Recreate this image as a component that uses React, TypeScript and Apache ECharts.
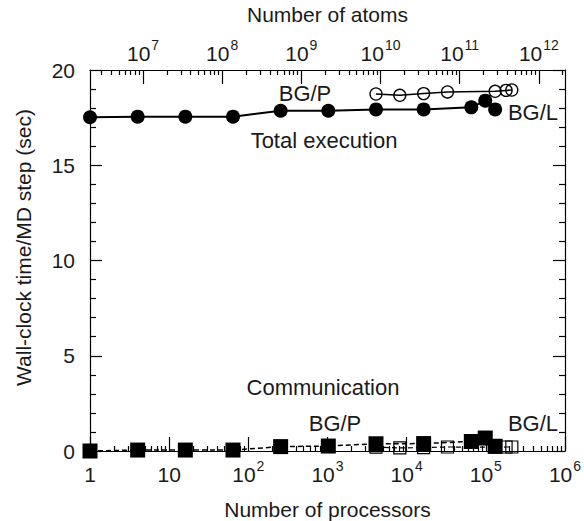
import React, { useEffect, useRef } from "react";
import * as echarts from "echarts";

// ---- data ----
const bglProcs = [1, 4, 16, 64, 256, 1024, 4096, 16384, 65536, 98304, 131072];
const bglTotal = [17.52, 17.55, 17.55, 17.55, 17.86, 17.86, 17.93, 17.93, 18.04, 18.39, 17.93];
const bglComm = [0.0, 0.05, 0.05, 0.05, 0.23, 0.26, 0.38, 0.39, 0.5, 0.68, 0.25];

const bgpProcs = [4096, 8192, 16384, 32768, 131072, 180224, 212992];
const bgpTotal = [18.74, 18.67, 18.76, 18.85, 18.88, 18.93, 18.95];
const bgpComm = [0.2, 0.16, 0.18, 0.21, 0.2, 0.21, 0.21];

const procTicks = [1, 10, 100, 1000, 10000, 100000, 1000000];
const atomTicks = [1e7, 1e8, 1e9, 1e10, 1e11, 1e12];
const atomMin = 2.14e6;
const atomMax = 2.14e12;

const yTicks = { min: 0, max: 20, interval: 5 };

const FONT = "Liberation Sans";
const TXT = "#1a1a1a";

function minorTicks(lo: number, hi: number, eFrom: number, eTo: number) {
  const out: number[] = [];
  for (let e = eFrom; e <= eTo; e++) {
    for (let m = 2; m <= 9; m++) {
      const v = m * Math.pow(10, e);
      if (v > lo && v < hi) out.push(v);
    }
  }
  return out;
}

const powLabel = (v: number) => {
  const e = Math.round(Math.log10(v));
  if (e === 0) return "{b|1}";
  if (e === 1) return "{b|10}";
  return `{b|10}{s|${e}}`;
};

const rich = {
  b: { fontSize: 21, fontFamily: FONT, color: TXT, lineHeight: 34, verticalAlign: "bottom" },
  s: { fontSize: 14, fontFamily: FONT, color: TXT, lineHeight: 14, verticalAlign: "top", padding: [8, 0, 0, 1] },
};

export default function App() {
  const ref = useRef<HTMLDivElement>(null);
  useEffect(() => {
    if (!ref.current) return;
    const chart = echarts.init(ref.current, undefined, { renderer: "svg" });
    const axisLine = { show: true, lineStyle: { color: "#000", width: 1.2 } };
    const tickStyle = { color: "#000", width: 1.2 };
    const option: any = {
      animation: false,
      backgroundColor: "#fff",
      grid: { left: 90, right: 19, top: 70, bottom: 70, containLabel: false, outerBoundsMode: "none" },
      xAxis: [
        {
          type: "log",
          logBase: 10,
          min: 1,
          max: 1e6,
          position: "bottom",
          axisLine,
          axisTick: { show: true, inside: true, length: 14, customValues: procTicks, lineStyle: tickStyle },
          axisLabel: { customValues: procTicks, formatter: powLabel, rich, margin: 0 },
          splitLine: { show: false },
          name: "Number of processors",
          nameLocation: "middle",
          nameGap: 48,
          nameTextStyle: { fontSize: 21, fontFamily: FONT, color: TXT },
        },
        {
          type: "log",
          logBase: 10,
          min: 1,
          max: 1e6,
          position: "bottom",
          axisLine: { show: false },
          axisTick: { show: true, inside: true, length: 5, customValues: minorTicks(1, 1e6, 0, 5), lineStyle: tickStyle },
          axisLabel: { show: false },
          splitLine: { show: false },
        },
        {
          type: "log",
          logBase: 10,
          min: atomMin,
          max: atomMax,
          position: "top",
          axisLine,
          axisTick: { show: true, inside: true, length: 14, customValues: atomTicks, lineStyle: tickStyle },
          axisLabel: { customValues: atomTicks, formatter: powLabel, rich, margin: 6 },
          splitLine: { show: false },
          name: "Number of atoms",
          nameLocation: "middle",
          nameGap: 44,
          nameTextStyle: { fontSize: 21, fontFamily: FONT, color: TXT },
        },
        {
          type: "log",
          logBase: 10,
          min: atomMin,
          max: atomMax,
          position: "top",
          axisLine: { show: false },
          axisTick: { show: true, inside: true, length: 5, customValues: minorTicks(atomMin, atomMax, 6, 12), lineStyle: tickStyle },
          axisLabel: { show: false },
          splitLine: { show: false },
        },
      ],
      yAxis: [
        {
          type: "value",
          position: "left",
          min: yTicks.min,
          max: yTicks.max,
          interval: yTicks.interval,
          axisLine,
          axisTick: { show: true, inside: true, length: 12, lineStyle: tickStyle },
          minorTick: { show: true, splitNumber: 5, length: 6, lineStyle: tickStyle },
          axisLabel: { fontSize: 21, fontFamily: FONT, color: TXT, margin: 15 },
          splitLine: { show: false },
          minorSplitLine: { show: false },
          name: "Wall-clock time/MD step (sec)",
          nameLocation: "middle",
          nameGap: 56,
          nameTextStyle: { fontSize: 21, fontFamily: FONT, color: TXT, padding: [0, 0, 0, 26] },
        },
        {
          type: "value",
          position: "right",
          min: yTicks.min,
          max: yTicks.max,
          interval: yTicks.interval,
          axisLine,
          axisTick: { show: true, inside: true, length: 12, lineStyle: tickStyle },
          minorTick: { show: true, splitNumber: 5, length: 6, lineStyle: tickStyle },
          axisLabel: { show: false },
          splitLine: { show: false },
          minorSplitLine: { show: false },
        },
      ],
      series: [
        {
          name: "Total BG/P",
          type: "line",
          xAxisIndex: 0,
          yAxisIndex: 0,
          data: bgpProcs.map((p, i) => [p, bgpTotal[i]]),
          symbol: "circle",
          symbolSize: 12,
          itemStyle: { color: "transparent", borderColor: "#000", borderWidth: 1.3 },
          lineStyle: { color: "#000", width: 1.5 },
          clip: false,
          z: 2,
        },
        {
          name: "Total BG/L",
          type: "line",
          xAxisIndex: 0,
          yAxisIndex: 0,
          data: bglProcs.map((p, i) => [p, bglTotal[i]]),
          symbol: "circle",
          symbolSize: 14,
          itemStyle: { color: "#000" },
          lineStyle: { color: "#000", width: 2 },
          clip: false,
          z: 3,
        },
        {
          name: "Communication BG/P",
          type: "line",
          xAxisIndex: 0,
          yAxisIndex: 0,
          data: bgpProcs.map((p, i) => [p, bgpComm[i]]),
          symbol: "rect",
          symbolSize: 12,
          itemStyle: { color: "transparent", borderColor: "#000", borderWidth: 1.2 },
          lineStyle: { color: "#000", width: 1.2, type: [5, 3] },
          clip: false,
          z: 2,
        },
        {
          name: "Communication BG/L",
          type: "line",
          xAxisIndex: 0,
          yAxisIndex: 0,
          data: bglProcs.map((p, i) => [p, bglComm[i]]),
          symbol: "rect",
          symbolSize: 15,
          itemStyle: { color: "#000" },
          lineStyle: { color: "#000", width: 1.5, type: [5, 3] },
          clip: false,
          z: 3,
        },
      ],
      graphic: [
        { type: "text", x: 305, y: 93, style: { text: "BG/P", fontSize: 22, fontFamily: FONT, fill: TXT, align: "center", verticalAlign: "middle" } },
        { type: "text", x: 533, y: 112, style: { text: "BG/L", fontSize: 22, fontFamily: FONT, fill: TXT, align: "center", verticalAlign: "middle" } },
        { type: "text", x: 324, y: 140, style: { text: "Total execution", fontSize: 22, fontFamily: FONT, fill: TXT, align: "center", verticalAlign: "middle" } },
        { type: "text", x: 323, y: 387, style: { text: "Communication", fontSize: 22, fontFamily: FONT, fill: TXT, align: "center", verticalAlign: "middle" } },
        { type: "text", x: 335, y: 423, style: { text: "BG/P", fontSize: 22, fontFamily: FONT, fill: TXT, align: "center", verticalAlign: "middle" } },
        { type: "text", x: 533, y: 423, style: { text: "BG/L", fontSize: 22, fontFamily: FONT, fill: TXT, align: "center", verticalAlign: "middle" } },
      ],
    };
    chart.setOption(option);
    return () => chart.dispose();
  }, []);
  return <div ref={ref} style={{ position: "absolute", left: 0, top: 0, width: 584, height: 521, background: "#fff" }} />;
}
